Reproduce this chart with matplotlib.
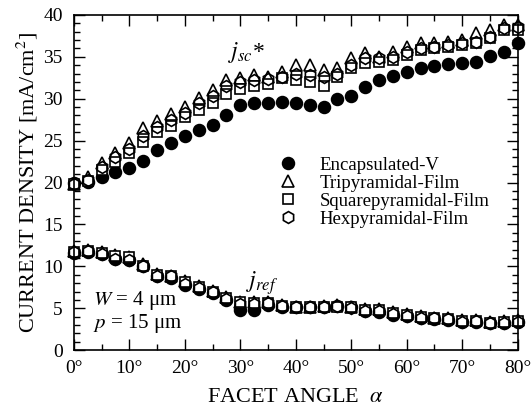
import numpy as np
import matplotlib
matplotlib.use('Agg')
import matplotlib.pyplot as plt

plt.rcParams['font.family'] = ['Liberation Serif', 'DejaVu Serif']
plt.rcParams['mathtext.fontset'] = 'stix'

# facet angle, every 2.5 degrees
angle = np.arange(0, 80.1, 2.5)

# upper group: j_sc*
encap_sc = [19.9, 20.1, 20.7, 21.3, 21.7, 22.6, 23.9, 24.7, 25.5, 26.3, 26.9,
            28.1, 29.3, 29.5, 29.5, 29.6, 29.5, 29.3, 29.0, 30.0, 30.3, 31.4,
            32.2, 32.7, 33.2, 33.6, 33.9, 34.1, 34.2, 34.4, 35.1, 35.6, 36.6]
tri_sc = [19.8, 20.6, 22.3, 23.5, 24.7, 26.5, 27.3, 28.2, 29.0, 30.1, 31.0,
          32.2, 32.5, 32.8, 32.6, 33.2, 34.0, 34.0, 33.4, 33.6, 34.8, 35.4,
          35.0, 35.6, 36.2, 36.6, 36.6, 36.8, 37.0, 37.8, 38.2, 38.8, 38.8]
sq_sc = [19.8, 20.2, 21.5, 22.5, 23.5, 24.8, 26.0, 26.8, 27.8, 28.6, 29.5,
         30.6, 31.2, 31.5, 31.8, 32.5, 32.2, 32.0, 31.5, 32.6, 33.6, 34.2,
         34.4, 34.6, 35.2, 35.8, 36.0, 36.2, 36.4, 36.6, 37.2, 38.2, 38.2]
hex_sc = [19.8, 20.3, 21.8, 23.0, 24.0, 25.5, 26.6, 27.4, 28.3, 29.5, 30.3,
          31.5, 32.0, 32.2, 32.3, 32.6, 33.0, 32.8, 32.6, 33.0, 34.0, 34.8,
          34.8, 35.0, 35.6, 36.0, 36.2, 36.4, 36.6, 36.8, 37.4, 38.4, 38.6]

# lower group: j_ref
encap_ref = [11.6, 11.7, 11.5, 10.9, 10.7, 10.0, 8.8, 8.6, 7.8, 7.3, 6.8,
             6.0, 4.8, 4.8, 5.4, 5.2, 5.1, 5.1, 5.1, 5.3, 5.1, 4.7, 4.6,
             4.2, 4.1, 3.9, 3.7, 3.6, 3.4, 3.4, 3.2, 3.3, 3.4]
tri_ref = [11.8, 12.0, 11.7, 11.3, 11.1, 10.3, 9.1, 8.9, 8.3, 7.6, 7.1,
           6.3, 5.8, 5.8, 5.7, 5.4, 5.2, 5.2, 5.3, 5.4, 5.2, 4.9, 4.9,
           4.5, 4.3, 4.1, 3.9, 3.9, 3.6, 3.6, 3.4, 3.5, 3.6]
sq_ref = [11.7, 11.8, 11.6, 11.2, 11.1, 10.1, 9.0, 8.8, 8.1, 7.5, 7.0,
          6.2, 5.7, 5.6, 5.6, 5.3, 5.2, 5.1, 5.2, 5.2, 5.1, 4.8, 4.8,
          4.4, 4.2, 4.0, 3.8, 3.7, 3.5, 3.5, 3.3, 3.4, 3.5]
hex_ref = [11.7, 11.8, 11.5, 10.9, 10.8, 10.0, 8.9, 8.8, 7.9, 7.4, 6.9,
           6.1, 5.5, 5.5, 5.6, 5.3, 5.1, 5.1, 5.2, 5.3, 5.0, 4.7, 4.7,
           4.3, 4.1, 3.9, 3.8, 3.7, 3.4, 3.5, 3.2, 3.3, 3.4]

series = [
    ('Encapsulated-V', encap_sc, encap_ref, dict(marker='o', mfc='black', mec='black')),
    ('Tripyramidal-Film', tri_sc, tri_ref, dict(marker='^', mfc='white', mec='black')),
    ('Squarepyramidal-Film', sq_sc, sq_ref, dict(marker='s', mfc='white', mec='black')),
    ('Hexpyramidal-Film', hex_sc, hex_ref, dict(marker='h', mfc='none', mec='black')),
]

fig = plt.figure(figsize=(5.31, 4.12), dpi=100)
ax = fig.add_axes([0.139, 0.150, 0.836, 0.814])

sizes = {'o': 8.5, '^': 8.5, 's': 7.5, 'h': 8.5}
for name, up, lo, st in series:
    ms = sizes[st['marker']]
    ax.plot(angle, up, ls='none', ms=ms, mew=1.2, label=name, clip_on=False, **st)
    ax.plot(angle, lo, ls='none', ms=ms, mew=1.2, clip_on=False, **st)

ax.set_xlim(0, 80)
ax.set_ylim(0, 40)
ax.set_xticks(np.arange(0, 81, 10))
ax.set_xticklabels([f'{v}°' for v in range(0, 81, 10)])
ax.set_xticks(np.arange(0, 81, 5), minor=True)
ax.set_yticks(np.arange(0, 41, 5))
ax.set_yticks(np.arange(0, 41, 1), minor=True)
ax.tick_params(which='both', direction='in', top=True, right=True, labelsize=14)
ax.tick_params(which='major', length=8, width=1)
ax.tick_params(which='minor', length=4, width=1)
ax.tick_params(axis='x', pad=7)
ax.tick_params(axis='y', pad=8)
for sp in ax.spines.values():
    sp.set_linewidth(1.2)

ax.set_xlabel(r'FACET ANGLE  $\alpha$', fontsize=16, labelpad=8)
ax.set_ylabel(r'CURRENT DENSITY [mA/cm$^2$]', fontsize=16, labelpad=2)

ax.text(27.8, 34.9, r'$j_{sc}$*', fontsize=17)
ax.text(31.0, 7.4, r'$j_{ref}$', fontsize=17)
ax.text(3.5, 5.4, r'$W$ = 4 μm', fontsize=15)
ax.text(3.5, 2.7, r'$p$ = 15 μm', fontsize=15)

ax.legend(loc='upper left', bbox_to_anchor=(0.44, 0.605), frameon=False,
          fontsize=13.5, handletextpad=1.2, labelspacing=0.05, borderpad=0,
          handlelength=1.0)

fig.savefig('out.png', dpi=100)
